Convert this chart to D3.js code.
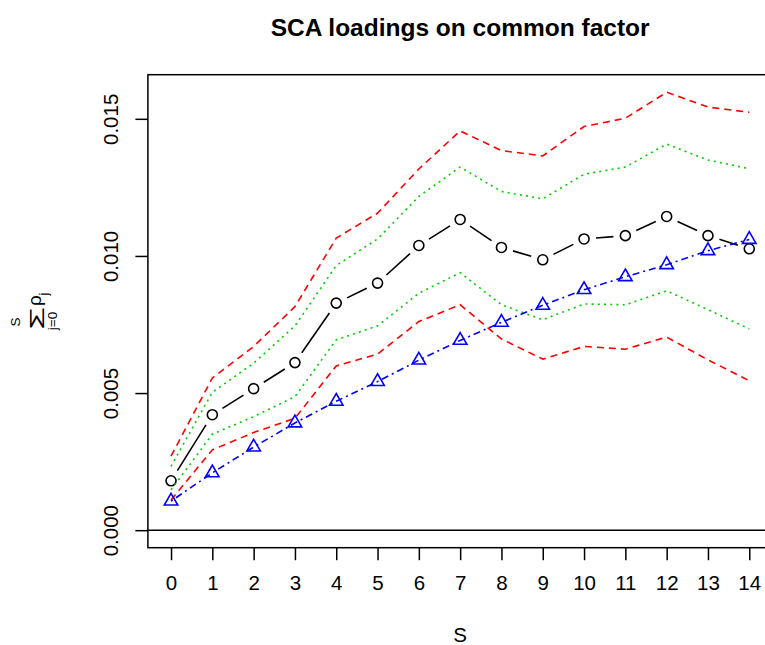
<!DOCTYPE html>
<html>
<head>
<meta charset="utf-8">
<script src="https://cdn.jsdelivr.net/npm/d3@7"></script>
<style>
  html, body { margin: 0; padding: 0; background: #fff; }
  svg { display: block; font-family: "Liberation Sans", Arial, Helvetica, sans-serif; }
</style>
</head>
<body>
<svg id="chart" width="765" height="645"></svg>
<script>
// Lag index s
const lags = [0, 1, 2, 3, 4, 5, 6, 7, 8, 9, 10, 11, 12, 13, 14];

// Cumulative SCA loadings (estimate)
const estimate = [0.00180, 0.00421, 0.00516, 0.00611, 0.00828, 0.00901, 0.01038, 0.01133,
                  0.01031, 0.00986, 0.01062, 0.01074, 0.01144, 0.01074, 0.01026];
// Outer band (dashed red)
const outerUpper = [0.00270, 0.00555, 0.00670, 0.00815, 0.01065, 0.01156, 0.01317, 0.01456,
                    0.01384, 0.01365, 0.01472, 0.01502, 0.01597, 0.01543, 0.01524];
const outerLower = [0.00110, 0.00293, 0.00356, 0.00408, 0.00599, 0.00642, 0.00761, 0.00822,
                    0.00697, 0.00624, 0.00670, 0.00660, 0.00704, 0.00621, 0.00545];
// Inner band (dotted green)
const innerUpper = [0.00233, 0.00503, 0.00609, 0.00745, 0.00965, 0.01062, 0.01217, 0.01324,
                    0.01235, 0.01208, 0.01298, 0.01324, 0.01408, 0.01350, 0.01318];
const innerLower = [0.00147, 0.00350, 0.00414, 0.00487, 0.00694, 0.00745, 0.00864, 0.00939,
                    0.00822, 0.00767, 0.00825, 0.00822, 0.00873, 0.00804, 0.00734];
// Reference curve (blue triangles)
const reference = [0.00106, 0.00209, 0.00303, 0.00391, 0.00470, 0.00542, 0.00620, 0.00692,
                   0.00758, 0.00820, 0.00877, 0.00924, 0.00968, 0.01019, 0.01060];

const yTicks = [0, 0.005, 0.010, 0.015];
const yTickLabels = ["0.000", "0.005", "0.010", "0.015"];
const titleText = "SCA loadings on common factor";
const xTitle = "S";

// Plot region
const plotLeft = 147.9, plotRight = 772.4, plotTop = 74.7, plotBottom = 547.7;
const yMax = d3.max(outerUpper);
const xPad = 0.04 * (d3.max(lags) - d3.min(lags));
const yPad = 0.04 * yMax;

const x = d3.scaleLinear().domain([d3.min(lags) - xPad, d3.max(lags) + xPad]).range([plotLeft, plotRight]);
const y = d3.scaleLinear().domain([-yPad, yMax + yPad]).range([plotBottom, plotTop]);

const svg = d3.select("#chart");
const FS = 20.5;

// Title
svg.append("text")
  .attr("x", (plotLeft + plotRight) / 2).attr("y", 36)
  .attr("text-anchor", "middle")
  .attr("font-size", 24.5).attr("font-weight", "bold")
  .text(titleText);

// Horizontal reference line at zero
svg.append("line")
  .attr("x1", plotLeft).attr("x2", plotRight)
  .attr("y1", y(0)).attr("y2", y(0))
  .attr("stroke", "#000").attr("stroke-width", 1.5);

const plot = svg.append("g");

function series(vals, color, dash) {
  plot.append("path")
    .datum(vals.map((v, i) => [lags[i], v]))
    .attr("fill", "none")
    .attr("stroke", color)
    .attr("stroke-width", 1.6)
    .attr("stroke-dasharray", dash)
    .attr("d", d3.line().x(d => x(d[0])).y(d => y(d[1])));
}

// Estimate: points joined by segments that stop short of each marker
const gap = 12;
const pts = estimate.map((v, i) => [x(lags[i]), y(v)]);
for (let i = 0; i < pts.length - 1; i++) {
  const [x0, y0] = pts[i], [x1, y1] = pts[i + 1];
  const len = Math.hypot(x1 - x0, y1 - y0);
  if (len <= 2 * gap) continue;
  const ux = (x1 - x0) / len, uy = (y1 - y0) / len;
  plot.append("line")
    .attr("x1", x0 + ux * gap).attr("y1", y0 + uy * gap)
    .attr("x2", x1 - ux * gap).attr("y2", y1 - uy * gap)
    .attr("stroke", "#000").attr("stroke-width", 1.6);
}
plot.selectAll("circle.est")
  .data(estimate)
  .join("circle")
  .attr("class", "est")
  .attr("cx", (d, i) => x(lags[i]))
  .attr("cy", d => y(d))
  .attr("r", 5)
  .attr("fill", "none")
  .attr("stroke", "#000")
  .attr("stroke-width", 1.6);

series(outerUpper, "#ff0000", "7,5");
series(outerLower, "#ff0000", "7,5");
series(innerUpper, "#00cd00", "2,4.2");
series(innerLower, "#00cd00", "2,4.2");
series(reference, "#0000ff", "2,4,7,4");

// Triangles (R pch 2 geometry)
const R = 5;
const tr0 = Math.sqrt(4 * Math.PI / (3 * Math.sqrt(3)));
const triPath = () => {
  const r = tr0 * R, xc = tr0 * Math.sqrt(3) / 2 * R, yc = tr0 / 2 * R;
  return `M0,${-r}L${xc},${yc}L${-xc},${yc}Z`;
};
plot.selectAll("path.tri")
  .data(reference)
  .join("path")
  .attr("class", "tri")
  .attr("transform", (d, i) => `translate(${x(lags[i])},${y(d)})`)
  .attr("d", triPath())
  .attr("fill", "none")
  .attr("stroke", "#0000ff")
  .attr("stroke-width", 1.6);

// Box
svg.append("rect")
  .attr("x", plotLeft).attr("y", plotTop)
  .attr("width", plotRight - plotLeft).attr("height", plotBottom - plotTop)
  .attr("fill", "none").attr("stroke", "#000").attr("stroke-width", 1.5);

// X axis
const xAxis = svg.append("g")
  .attr("transform", `translate(0,${plotBottom})`)
  .call(d3.axisBottom(x).tickValues(lags).tickSize(12.5).tickFormat(d3.format("d")));
xAxis.select(".domain").remove();
xAxis.selectAll(".tick line").attr("stroke", "#000").attr("stroke-width", 1.5);
xAxis.selectAll(".tick text")
  .attr("y", 42.8).attr("dy", 0)
  .attr("font-size", FS).attr("font-family", "Liberation Sans, Arial, sans-serif")
  .attr("fill", "#000");

// Y axis
const yAxis = svg.append("g")
  .attr("transform", `translate(${plotLeft},0)`)
  .call(d3.axisLeft(y).tickValues(yTicks).tickSize(12.5).tickFormat((d, i) => yTickLabels[i]));
yAxis.select(".domain").remove();
yAxis.selectAll(".tick line").attr("stroke", "#000").attr("stroke-width", 1.5);
yAxis.selectAll(".tick text")
  .attr("x", 0).attr("y", 0).attr("dy", 0)
  .attr("text-anchor", "middle")
  .attr("transform", "translate(-30,0) rotate(-90)")
  .attr("font-size", FS).attr("font-family", "Liberation Sans, Arial, sans-serif")
  .attr("fill", "#000");

// X title
svg.append("text")
  .attr("x", (plotLeft + plotRight) / 2).attr("y", 642)
  .attr("text-anchor", "middle")
  .attr("font-size", FS)
  .text(xTitle);

// Y title: sum_{j=0}^{S} rho_j, rotated
const yl = svg.append("g").attr("transform", "translate(35,312) rotate(-90)");
yl.append("text")
  .attr("transform", "translate(-6.5,9) scale(1.75,1)")
  .attr("text-anchor", "middle")
  .attr("font-size", 21).text("\u03a3");
yl.append("text").attr("x", -10).attr("y", -15).attr("text-anchor", "middle")
  .attr("font-size", 13.5).text("S");
yl.append("text").attr("x", -9).attr("y", 21.5).attr("text-anchor", "middle")
  .attr("font-size", 13.5).text("j=0");
yl.append("text").attr("x", 6).attr("y", 6)
  .attr("font-size", 19).text("\u03c1");
yl.append("text").attr("x", 16.5).attr("y", 13)
  .attr("font-size", 13).text("j");
</script>
</body>
</html>
